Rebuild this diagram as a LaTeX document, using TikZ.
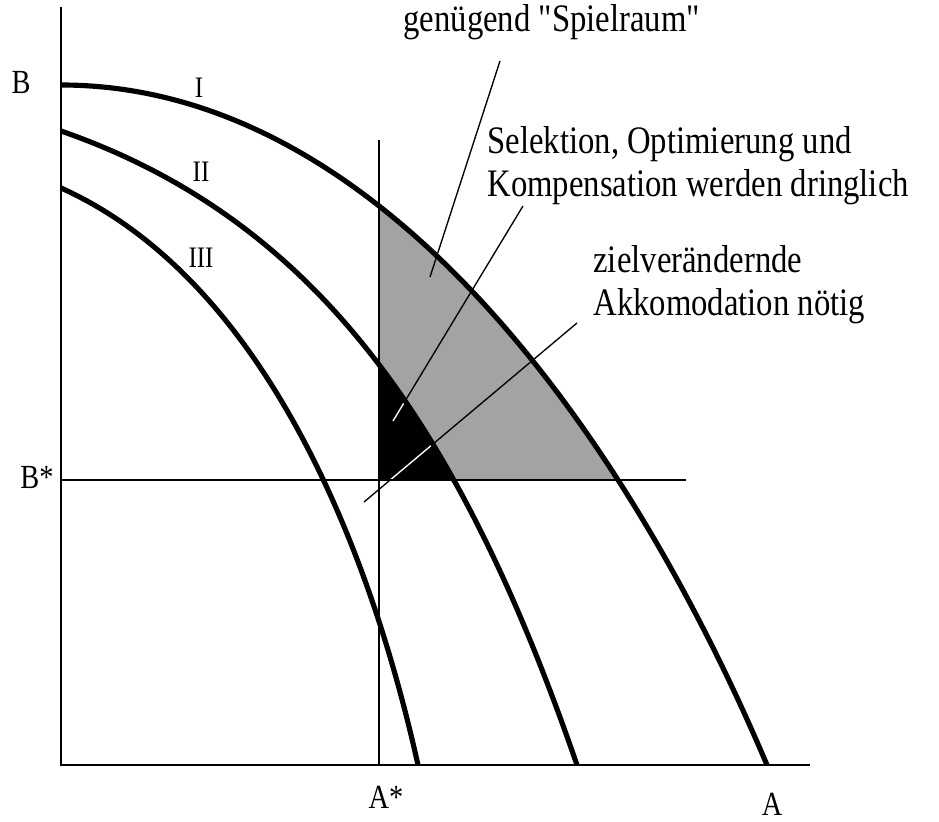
\documentclass[tikz,border=0pt]{standalone}
\usepackage{fontspec}
\newfontfamily\schrift{Liberation Serif}

\def\curveI{(61,85) .. controls (386,85) and (632,446) .. (767,765)}
\def\curveII{(61,131) .. controls (311,218) and (457,417) .. (577,765)}
\def\curveIII{(61,188) .. controls (261,278) and (368,540) .. (418,765)}

\begin{document}
\begin{tikzpicture}[x=0.013cm,y=-0.013cm,
 txt/.style={font=\schrift\fontsize{14.4}{15.9}\selectfont,inner sep=0pt,xscale=0.84,align=left},
 lbl/.style={font=\schrift\fontsize{12.5}{14}\selectfont,inner sep=0pt,xscale=0.84},
 num/.style={font=\schrift\fontsize{11}{13}\selectfont,inner sep=0pt,xscale=0.84},
 kurve/.style={line width=1.9pt},
 achse/.style={line width=1pt},
 hilf/.style={line width=0.6pt},
 zeiger/.style={line width=0.5pt}]
\useasboundingbox (0,0) rectangle (939,822);
\coordinate (O) at (61,765);
\coordinate (Btop) at (61,7);
\coordinate (Aend) at (810,765);
\coordinate (Astar) at (379,765);
\coordinate (AstarTop) at (379,140);
\coordinate (Bstar) at (61,480);
\coordinate (BstarEnd) at (686,480);
% gray and black areas
\begin{scope}
\clip (379,0) rectangle (939,480);
\fill[black!36] \curveI -- (O) -- cycle;
\fill[black] \curveII -- (O) -- cycle;
\end{scope}
\node[txt,anchor=base west] (spiel) at (403,32) {genügend "Spielraum"};
\node[txt,anchor=north west] (sok) at (487,126) {Selektion, Optimierung und\\Kompensation werden dringlich};
\node[txt,anchor=north west] (akk) at (593,245) {zielverändernde\\Akkomodation nötig};
\coordinate (s1) at (500,61);
\coordinate (s2) at (430,277);
\coordinate (k1) at (523,206);
\coordinate (k2) at (393,421);
\coordinate (a1) at (577,323);
\coordinate (a2) at (364,502);
\draw[zeiger] (s1) -- (s2);
\draw[zeiger] (k1) -- (k2);
\draw[zeiger] (a1) -- (a2);
\begin{scope}
\clip (379,0) rectangle (939,480);
\clip \curveII -- (O) -- cycle;
\draw[zeiger,white] (k1) -- (k2) (a1) -- (a2);
\end{scope}
\draw[kurve] \curveI;
\draw[kurve] \curveII;
\draw[kurve] \curveIII;
\draw[achse] (Btop) -- (O) -- (Aend);
\draw[hilf] (AstarTop) -- (Astar);
\draw[hilf] (Bstar) -- (BstarEnd);
\node[lbl] (b) at (21,82) {B};
\node[lbl] (bs) at (37,477) {B*};
\node[lbl] (as) at (386,797) {A*};
\node[lbl] (a) at (772,804) {A};
\node[num] (n1) at (199,88) {I};
\node[num] (n2) at (201,172) {II};
\node[num] (n3) at (201,258) {III};
\end{tikzpicture}
\end{document}
